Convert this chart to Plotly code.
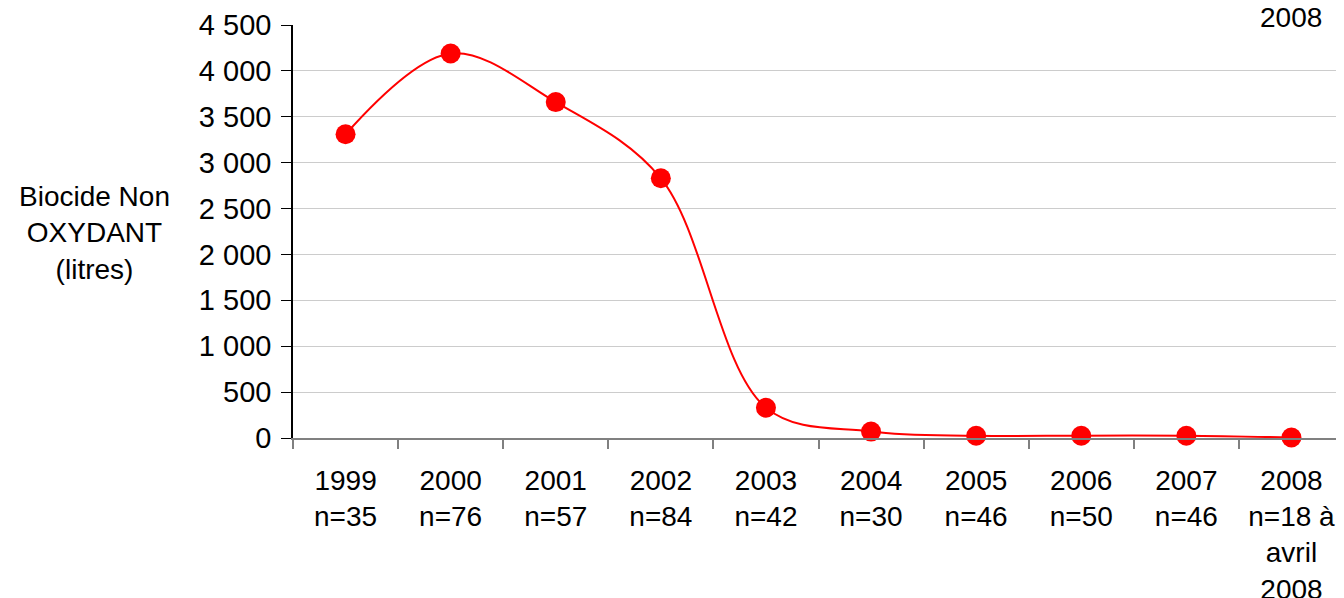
import plotly.graph_objects as go

years = ["1999", "2000", "2001", "2002", "2003", "2004", "2005", "2006", "2007", "2008"]
counts = ["n=35", "n=76", "n=57", "n=84", "n=42", "n=30", "n=46", "n=50", "n=46", "n=18 à<br>avril<br>2008"]
values = [3310, 4190, 3660, 2830, 330, 70, 25, 25, 25, 5]
y_tickvals = [0, 500, 1000, 1500, 2000, 2500, 3000, 3500, 4000, 4500]
y_ticktext = ["0", "500", "1 000", "1 500", "2 000", "2 500", "3 000", "3 500", "4 000", "4 500"]
y_title = "Biocide Non<br>OXYDANT<br>(litres)"

labels = [f"{y}<br>{c}" for y, c in zip(years, counts)]
font = "Liberation Sans, Arial, sans-serif"

fig = go.Figure()
fig.add_trace(go.Scatter(
    x=labels, y=values, mode="lines+markers",
    line=dict(color="#ff0000", width=2, shape="spline", smoothing=1),
    marker=dict(color="#ff0000", size=20),
    cliponaxis=False, showlegend=False,
))

fig.update_layout(
    width=1336, height=590,
    margin=dict(l=285, r=0, t=17, b=160),
    paper_bgcolor="white", plot_bgcolor="white",
    font=dict(family=font, size=28, color="black"),
    xaxis=dict(
        type="category", range=[-0.5, 9.5], automargin=False,
        showline=True, linecolor="#808080", linewidth=2,
        ticks="outside", tickson="boundaries", ticklen=9, tickcolor="#808080", tickwidth=2,
        showgrid=False, tickfont=dict(size=28), ticklabelstandoff=16,
    ),
    yaxis=dict(
        range=[0, 4500], tickvals=y_tickvals, ticktext=y_ticktext, automargin=False,
        showline=True, linecolor="black", linewidth=1.5,
        ticks="outside", ticklen=10, tickcolor="black",
        showgrid=True, gridcolor="#cccccc", gridwidth=1,
        zeroline=False, tickfont=dict(size=29), ticklabelstandoff=4,
    ),
    annotations=[
        dict(text=y_title, xref="paper", yref="paper", x=-0.1884, y=0.497,
             xanchor="center", yanchor="middle", showarrow=False,
             font=dict(size=28)),
        dict(text="2008", xref="x", yref="paper", x=9, y=1.017,
             xanchor="center", yanchor="middle", showarrow=False,
             font=dict(size=28)),
    ],
)

fig.write_html("out.html")
